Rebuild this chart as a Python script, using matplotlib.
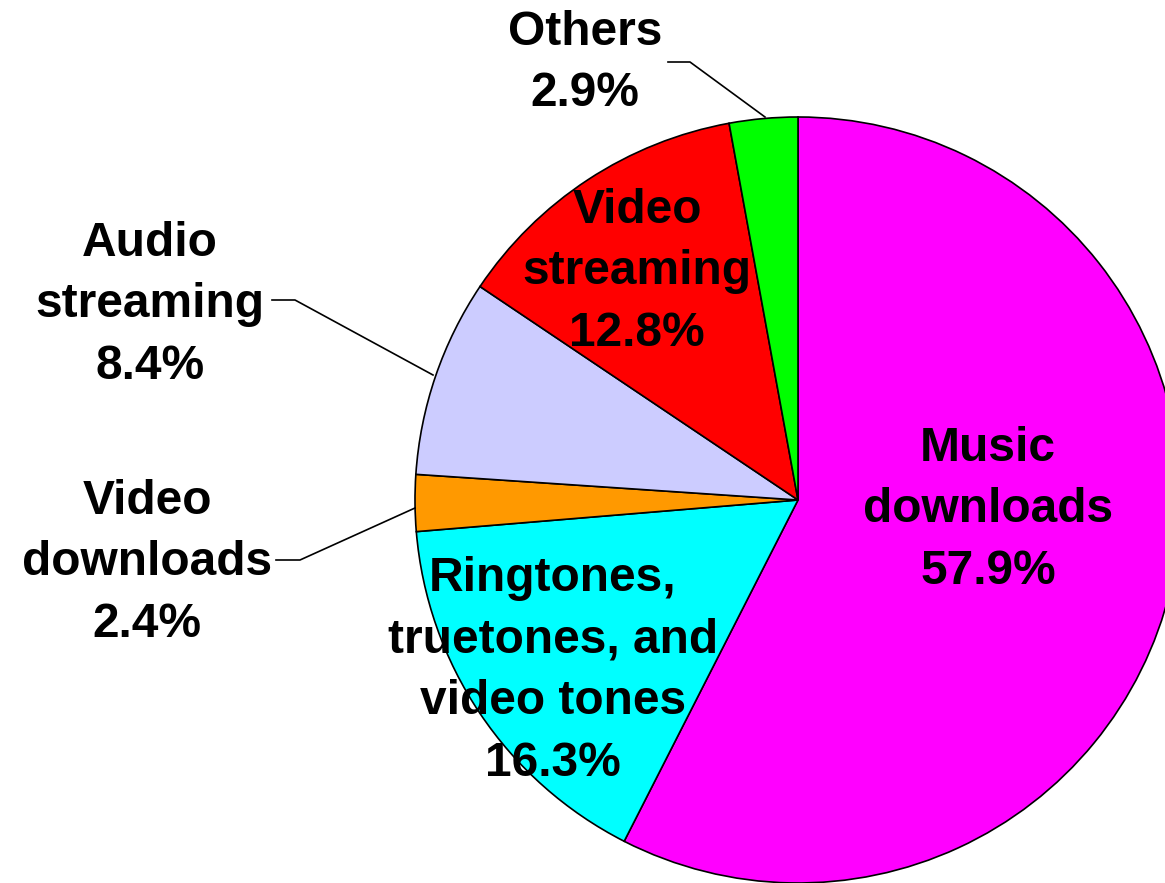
import matplotlib.pyplot as plt

plt.rcParams["font.family"] = ["Liberation Sans", "DejaVu Sans"]

# ---------------- DATA ----------------
labels = [
    "Music\ndownloads",
    "Ringtones,\ntruetones, and\nvideo tones",
    "Video\ndownloads",
    "Audio\nstreaming",
    "Video\nstreaming",
    "Others",
]
shares = [57.9, 16.3, 2.4, 8.4, 12.8, 2.9]
colors = ["#FF00FF", "#00FFFF", "#FF9900", "#CCCCFF", "#FF0000", "#00FF00"]

# label centres in pixels (x, y from top)
label_pos = [(988, 510), (553, 671), (147, 563), (150, 305), (637, 272), (585, 63)]
# leader lines for labels sitting outside the pie, pixel coordinates
leaders = {
    2: [(276, 560), (300, 560), (415, 508)],
    3: [(272, 300), (295, 300), (433, 375)],
    5: [(668, 62), (690, 62), (765, 117)],
}

W, H = 1165, 883
CX, CY, R = 798, 500, 383


def to_data(px, py):
    return (px - CX) / R, (CY - py) / R


fig = plt.figure(figsize=(W / 100, H / 100), dpi=100)
ax = fig.add_axes([0, 0, 1, 1])

ax.pie(
    shares,
    colors=colors,
    startangle=90,
    counterclock=False,
    radius=1,
    center=(0, 0),
    wedgeprops=dict(edgecolor="black", linewidth=1.2),
)

# pie() resets the limits, so set them afterwards
ax.set_xlim(-CX / R, (W - CX) / R)
ax.set_ylim(-(H - CY) / R, CY / R)
ax.set_aspect("equal")
ax.axis("off")

for i, (lab, val) in enumerate(zip(labels, shares)):
    x, y = to_data(*label_pos[i])
    ax.text(x, y, f"{lab}\n{val:.1f}%", ha="center", va="center",
            fontsize=34.5, fontweight="bold", linespacing=1.48)

for pts in leaders.values():
    xs, ys = zip(*[to_data(px, py) for px, py in pts])
    ax.plot(xs, ys, color="black", linewidth=1.2)

fig.savefig("out.png", dpi=100)
